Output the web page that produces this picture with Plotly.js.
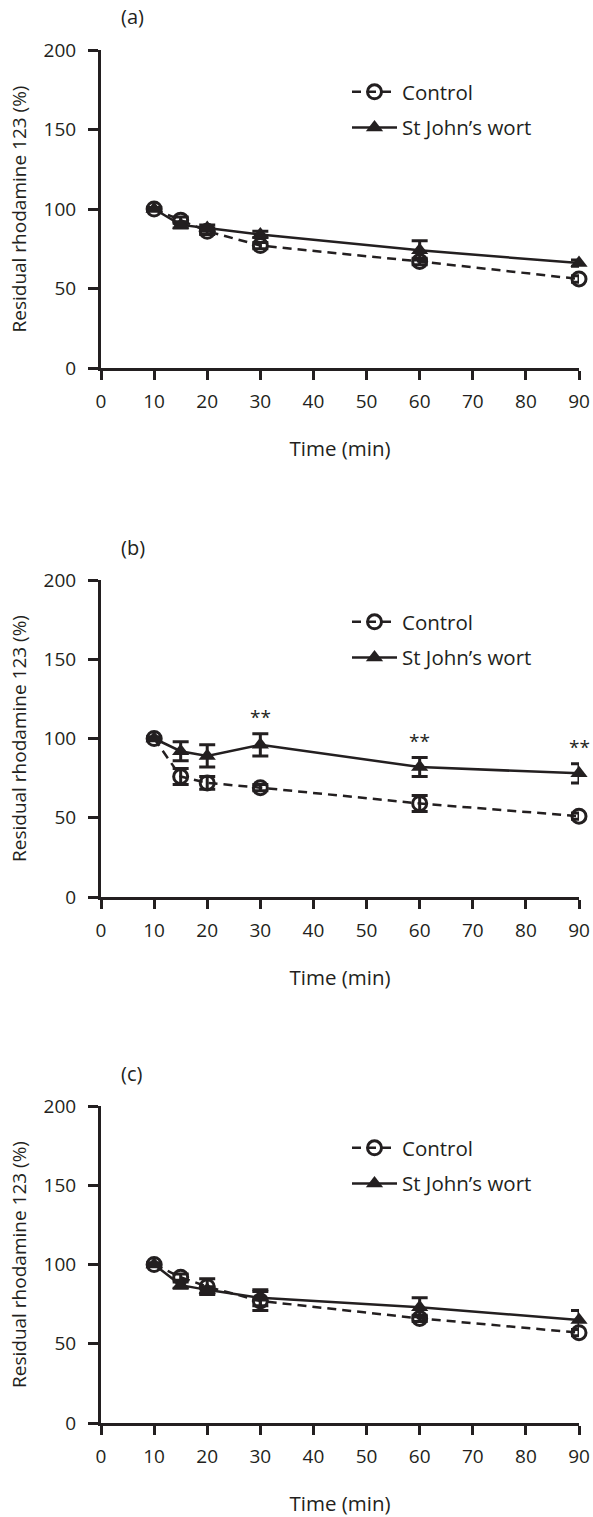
<!DOCTYPE html>
<html>
<head>
<meta charset="utf-8">
<script src="https://cdn.plot.ly/plotly-3.0.1.min.js"></script>
<style>html,body{margin:0;padding:0;background:#fff;}#chart{width:593px;height:1517px;}</style>
</head>
<body>
<div id="chart"></div>
<script>
// ---- data ----
var timeMin = [10, 15, 20, 30, 60, 90];
var xTicks = [0, 10, 20, 30, 40, 50, 60, 70, 80, 90];
var yTicks = [0, 50, 100, 150, 200];
var panelLabels = ['(a)', '(b)', '(c)'];
var seriesNames = ['Control', 'St John\u2019s wort'];

var controlA = [100, 93, 86, 77, 67, 56];
var controlAErr = [1, 2, 2, 2, 2, 2];
var sjwA = [100, 90, 88, 84, 74, 66];
var sjwAErr = [1, 2, 2, 2, 6, 2];

var controlB = [100, 76, 72, 69, 59, 51];
var controlBErr = [1, 5, 4, 2, 5, 2];
var sjwB = [100, 92, 89, 96, 82, 78];
var sjwBErr = [1, 6, 7, 7, 6, 6];
var sigB = ['', '', '', '**', '**', '**'];

var controlC = [100, 92, 86, 77, 66, 57];
var controlCErr = [1, 2, 5, 6, 2, 2];
var sjwC = [100, 87, 84, 79, 73, 65];
var sjwCErr = [1, 2, 2, 5, 6, 6];

// ---- layout helpers ----
var W = 593, H = 1517;
var ink = '#231f20';
var FONT = 'Open Sans, Liberation Sans, sans-serif';
// pixel positions of each panel: [top (y=200), bottom (y=0)]
var panelPx = [[50, 368], [580, 897], [1106, 1423]];
var xPx = [101, 579];

var panels = [
  {ctl: controlA, ctlErr: controlAErr, sjw: sjwA, sjwErr: sjwAErr, sig: null},
  {ctl: controlB, ctlErr: controlBErr, sjw: sjwB, sjwErr: sjwBErr, sig: sigB},
  {ctl: controlC, ctlErr: controlCErr, sjw: sjwC, sjwErr: sjwCErr, sig: null}
];

var traces = [];
var layout = {
  width: W, height: H,
  margin: {l: 0, r: 0, t: 0, b: 0},
  paper_bgcolor: '#fff', plot_bgcolor: '#fff',
  font: {family: FONT, color: ink, size: 18},
  showlegend: true,
  annotations: []
};

panels.forEach(function (p, i) {
  var n = i === 0 ? '' : String(i + 1);
  var xa = 'x' + n, ya = 'y' + n;
  var leg = 'legend' + n;
  var ydom = [(H - panelPx[i][1]) / H, (H - panelPx[i][0]) / H];

  traces.push({
    x: timeMin, y: p.ctl, type: 'scatter', mode: 'lines+markers',
    name: seriesNames[0], xaxis: xa, yaxis: ya, legend: leg, legendgroup: 'c' + i,
    cliponaxis: false,
    line: {color: ink, width: 2.5, dash: '9px,6px'},
    marker: {symbol: 'circle-open', size: 14, color: ink, line: {width: 3, color: ink}},
    error_y: {type: 'data', array: p.ctlErr, visible: true, color: ink, thickness: 3, width: 8}
  });
  traces.push({
    x: timeMin, y: p.sjw, type: 'scatter', mode: 'lines+markers',
    name: seriesNames[1], xaxis: xa, yaxis: ya, legend: leg, legendgroup: 's' + i,
    cliponaxis: false,
    line: {color: ink, width: 2.5},
    marker: {symbol: 'triangle-up', size: 15, color: ink},
    error_y: {type: 'data', array: p.sjwErr, visible: true, color: ink, thickness: 3, width: 8}
  });

  layout['xaxis' + n] = {
    domain: [xPx[0] / W, xPx[1] / W], anchor: ya, range: [0, 90],
    tickvals: xTicks, ticktext: xTicks.map(String),
    showline: true, linecolor: ink, linewidth: 3, ticks: 'outside', ticklen: 9, tickwidth: 3, tickcolor: ink,
    showgrid: false, zeroline: false, ticklabelstandoff: 5,
    tickfont: {size: 19, family: FONT, color: ink},
    title: {text: 'Time (min)', font: {size: 20.5, family: FONT, color: ink}, standoff: 29},
    automargin: false, fixedrange: true
  };
  layout['yaxis' + n] = {
    domain: ydom, anchor: xa, range: [0, 200],
    tickvals: yTicks, ticktext: yTicks.map(String),
    showline: true, linecolor: ink, linewidth: 3, ticks: 'outside', ticklen: 10, tickwidth: 3, tickcolor: ink,
    showgrid: false, zeroline: false, ticklabelstandoff: 8,
    tickfont: {size: 19, family: FONT, color: ink},
    title: {text: 'Residual rhodamine 123 (%)', font: {size: 19, family: FONT, color: ink}, standoff: 12},
    automargin: false, fixedrange: true
  };
  layout[leg] = {
    x: 347 / W, xanchor: 'left',
    y: (H - (panelPx[i][0] + 22)) / H, yanchor: 'top',
    bgcolor: 'rgba(0,0,0,0)', borderwidth: 0,
    font: {size: 20.5, family: FONT, color: ink},
    itemwidth: 45, traceorder: 'grouped', tracegroupgap: 6
  };
  layout.annotations.push({
    xref: 'paper', yref: 'paper', x: 119 / W, y: (H - (panelPx[i][0] - 33)) / H,
    xanchor: 'left', yanchor: 'middle', showarrow: false,
    text: panelLabels[i], font: {size: 20, family: FONT, color: ink}
  });
  if (p.sig) {
    p.sig.forEach(function (s, k) {
      if (!s) return;
      layout.annotations.push({
        xref: xa, yref: ya, x: timeMin[k], y: p.sjw[k] + p.sjwErr[k],
        yanchor: 'bottom', yshift: 2, showarrow: false, text: s,
        font: {size: 19, family: FONT, color: ink}
      });
    });
  }
});

Plotly.newPlot('chart', traces, layout, {displayModeBar: false, staticPlot: true});
</script>
</body>
</html>
